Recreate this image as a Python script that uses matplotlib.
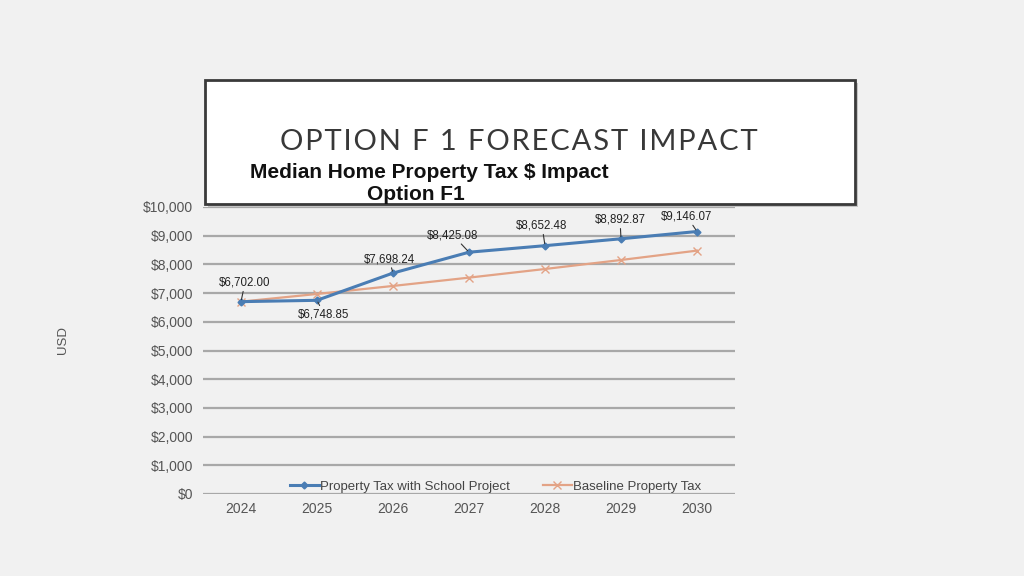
import matplotlib
matplotlib.use("Agg")
import matplotlib.pyplot as plt
from matplotlib.patches import Rectangle

years = ["2024", "2025", "2026", "2027", "2028", "2029", "2030"]
with_project = [6702.00, 6748.85, 7698.24, 8425.08, 8652.48, 8892.87, 9146.07]
baseline = [6702, 6970, 7249, 7539, 7840, 8154, 8480]
y_ticks = [0, 1000, 2000, 3000, 4000, 5000, 6000, 7000, 8000, 9000, 10000]
label_offsets = [(4, 19), (7, -14), (-4, 14), (-16, 17), (-3, 20), (-1, 19), (-10, 15)]

BG = "#f1f1f1"
BLUE = "#4a7db4"
ORANGE = "#e3a386"

plt.rcParams['font.family'] = ['Liberation Sans', 'DejaVu Sans']

fig = plt.figure(figsize=(10.24, 5.76), dpi=100, facecolor=BG)
ax = fig.add_axes([203/1024, 1-494/576, 532/1024, 287/576], facecolor=BG)

x = list(range(len(years)))
ax.plot(x, baseline, color=ORANGE, lw=1.6, marker='x', ms=6, mew=1.0,
        label="Baseline Property Tax", zorder=3)
ax.plot(x, with_project, color=BLUE, lw=2.2, marker='D', ms=3.5,
        label="Property Tax with School Project", zorder=4)

ax.set_xlim(-0.5, len(years) - 0.5)
ax.set_ylim(0, 10000)
ax.set_yticks(y_ticks)
ax.set_yticklabels([f"${v:,.0f}" for v in y_ticks])
ax.set_xticks(x)
ax.set_xticklabels(years)
ax.yaxis.grid(True, color="#a8a8a8", lw=1.6)
ax.set_axisbelow(True)
for s in ax.spines.values():
    s.set_visible(False)
ax.tick_params(axis='both', length=0, labelsize=10, labelcolor="#555555")
ax.tick_params(axis='y', pad=7)
ax.tick_params(axis='x', pad=6)
ax.set_ylabel("USD", fontsize=9.5, color="#555555")
ax.yaxis.set_label_coords((69 - 203) / 532, 0.538)

for xi, v, (dx, dy) in zip(x, with_project, label_offsets):
    ax.annotate(f"${v:,.2f}", xy=(xi, v), xytext=(dx, dy), textcoords='offset pixels',
                ha='center', va='center', fontsize=8.3, color="#222222",
                arrowprops=dict(arrowstyle='-', color="#333333", lw=0.8,
                                shrinkA=0, shrinkB=1.5), zorder=6)

handles, labels = ax.get_legend_handles_labels()
leg = ax.legend(handles[::-1], labels[::-1], loc='center', bbox_to_anchor=(0.55, 0.025),
                ncol=2, frameon=False, fontsize=9.5, handlelength=2.2,
                handletextpad=0.1, columnspacing=2.5, labelcolor="#444444")

# Title box with shadow
fig.add_artist(Rectangle((208/1024, 1-207/576), 650/1024, 124/576,
                         transform=fig.transFigure, facecolor="#c4c4c4",
                         edgecolor='none', zorder=5))
fig.add_artist(Rectangle((205/1024, 1-204/576), 650/1024, 124/576,
                         transform=fig.transFigure, facecolor="white",
                         edgecolor="#3a3a3a", lw=2, zorder=6))
title = "OPTION F 1 FORECAST IMPACT"
fig.text(519/1024, 1-142/576, "\u200a".join(title),
         family=['Lato', 'DejaVu Sans'], fontsize=21, fontweight='normal',
         color="#383838", ha='center', va='center', zorder=7)
fig.text(250/1024, 1-172/576, "Median Home Property Tax $ Impact",
         fontsize=15, fontweight='bold', color="#111111",
         ha='left', va='center', zorder=7)
fig.text(367/1024, 1-194/576, "Option F1",
         fontsize=15, fontweight='bold', color="#111111",
         ha='left', va='center', zorder=7)

fig.savefig("out.png", dpi=100, facecolor=BG)
